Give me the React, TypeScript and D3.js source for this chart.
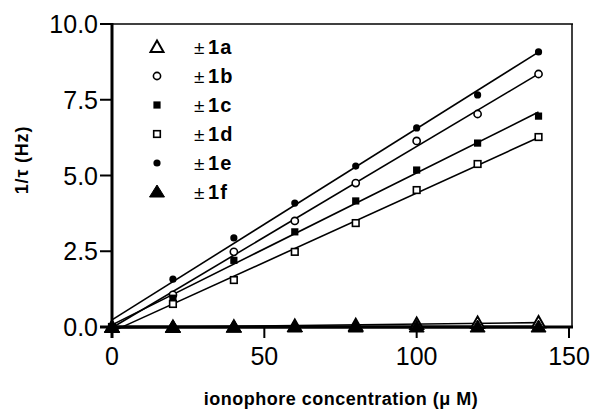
import React from "react";
import * as d3 from "d3";

const concentrations = [0, 20, 40, 60, 80, 100, 120, 140];
const series1a = [0, 0.0, 0.01, 0.03, 0.06, 0.1, 0.13, 0.15];
const series1b = [0, 1.06, 2.48, 3.5, 4.75, 6.14, 7.03, 8.35];
const series1c = [0, 0.95, 2.2, 3.14, 4.16, 5.18, 6.07, 6.96];
const series1d = [0, 0.76, 1.55, 2.48, 3.43, 4.52, 5.38, 6.27];
const series1e = [0, 1.58, 2.94, 4.09, 5.31, 6.57, 7.66, 9.08];
const series1f = [0, 0, 0, 0, 0, 0, 0, 0];
const seriesLabels = ["1a", "1b", "1c", "1d", "1e", "1f"];
const xTicks = [0, 50, 100, 150];
const yTicks = [0, 2.5, 5, 7.5, 10];

type Sym = "triOpen" | "circOpen" | "sqFill" | "sqOpen" | "circFill" | "triFill";
const symbols: Sym[] = ["triOpen", "circOpen", "sqFill", "sqOpen", "circFill", "triFill"];
const allSeries = [series1a, series1b, series1c, series1d, series1e, series1f];

function fit(xs: number[], ys: number[]) {
  const n = xs.length;
  const mx = d3.mean(xs)!;
  const my = d3.mean(ys)!;
  let sxy = 0, sxx = 0;
  for (let i = 0; i < n; i++) {
    sxy += (xs[i] - mx) * (ys[i] - my);
    sxx += (xs[i] - mx) * (xs[i] - mx);
  }
  const b = sxy / sxx;
  return { a: my - b * mx, b };
}

function Marker({ s, x, y }: { s: Sym; x: number; y: number }) {
  switch (s) {
    case "triOpen":
      return <path d={`M${x},${y - 6.5}L${x + 6.5},${y + 5}L${x - 6.5},${y + 5}Z`} fill="#fff" stroke="#000" strokeWidth={2} />;
    case "triFill":
      return <path d={`M${x},${y - 7}L${x + 7.5},${y + 5}L${x - 7.5},${y + 5}Z`} fill="#000" stroke="#000" strokeWidth={1} />;
    case "circOpen":
      return <circle cx={x} cy={y} r={3.6} fill="#fff" stroke="#000" strokeWidth={1.6} />;
    case "circFill":
      return <circle cx={x} cy={y} r={3.6} fill="#000" />;
    case "sqFill":
      return <rect x={x - 3.6} y={y - 3.6} width={7.2} height={7.2} fill="#000" />;
    case "sqOpen":
      return <rect x={x - 3.3} y={y - 3.3} width={6.6} height={6.6} fill="#fff" stroke="#000" strokeWidth={1.6} />;
  }
}

export default function App() {
  const W = 593, H = 410;
  const x = d3.scaleLinear().domain([0, 150]).range([112, 569]);
  const y = d3.scaleLinear().domain([0, 10]).range([327, 24]);
  const font = "'Liberation Sans', Arial, Helvetica, sans-serif";
  const xMin = d3.min(concentrations)!;
  const xMax = d3.max(concentrations)!;
  const fmtY = d3.format(".1f");

  const fits = allSeries.map((ys) => fit(concentrations, ys));

  return (
    <svg width={W} height={H} style={{ position: "absolute", left: 0, top: 0, background: "#fff" }}>
      <rect x={0} y={0} width={W} height={H} fill="#fff" />
      {/* frame top/right */}
      <line x1={112} x2={573} y1={y(10)} y2={y(10)} stroke="#000" strokeWidth={1.5} />
      <line x1={572} x2={572} y1={y(10)} y2={y(0)} stroke="#000" strokeWidth={1.5} />

      {/* fit lines */}
      {fits.map((f, i) => (
        <line
          key={"l" + i}
          x1={x(xMin)}
          x2={x(xMax)}
          y1={y(f.a + f.b * xMin)}
          y2={y(f.a + f.b * xMax)}
          stroke="#000"
          strokeWidth={i === 5 ? 3 : 1.6}
        />
      ))}

      {/* axes */}
      <line x1={100} x2={573} y1={y(0)} y2={y(0)} stroke="#000" strokeWidth={3} />
      <line x1={112} x2={112} y1={y(10) - 1} y2={y(0) + 11} stroke="#000" strokeWidth={3} />
      {yTicks.map((t) => (
        <g key={"yt" + t}>
          <line x1={100} x2={112} y1={y(t)} y2={y(t)} stroke="#000" strokeWidth={2} />
          <text x={98} y={y(t)} dy="0.36em" textAnchor="end" fontFamily={font} fontSize={25} fill="#000">
            {fmtY(t)}
          </text>
        </g>
      ))}
      {xTicks.map((t) => (
        <g key={"xt" + t}>
          <line x1={x(t)} x2={x(t)} y1={y(0)} y2={y(0) + 11} stroke="#000" strokeWidth={2} />
          <text x={x(t)} y={365} textAnchor="middle" fontFamily={font} fontSize={25} fill="#000">
            {t}
          </text>
        </g>
      ))}

      {/* markers */}
      {allSeries.map((ys, i) =>
        ys.map((v, j) => <Marker key={`m${i}-${j}`} s={symbols[i]} x={x(concentrations[j])} y={y(v)} />)
      )}

      {/* legend */}
      {seriesLabels.map((lab, i) => {
        const ly = 47 + i * 29;
        return (
          <g key={"lg" + i}>
            <Marker s={symbols[i]} x={157} y={ly} />
            <text x={194} y={ly + 7} fontFamily={font} fontSize={19} fill="#000">
              ±
            </text>
            <text x={208} y={ly + 7} fontFamily={font} fontSize={20} fontWeight="bold" letterSpacing={1.2} fill="#000">
              {lab}
            </text>
          </g>
        );
      })}

      {/* axis titles */}
      <text x={341} y={405} textAnchor="middle" fontFamily={font} fontSize={18} fontWeight="bold" letterSpacing={0.5} fill="#000">
        ionophore concentration (μ M)
      </text>
      <text
        transform="translate(28,160) rotate(-90)"
        textAnchor="middle"
        fontFamily={font}
        fontSize={18}
        fontWeight="bold"
        letterSpacing={0.8}
        fill="#000"
      >
        1/τ (Hz)
      </text>
    </svg>
  );
}
